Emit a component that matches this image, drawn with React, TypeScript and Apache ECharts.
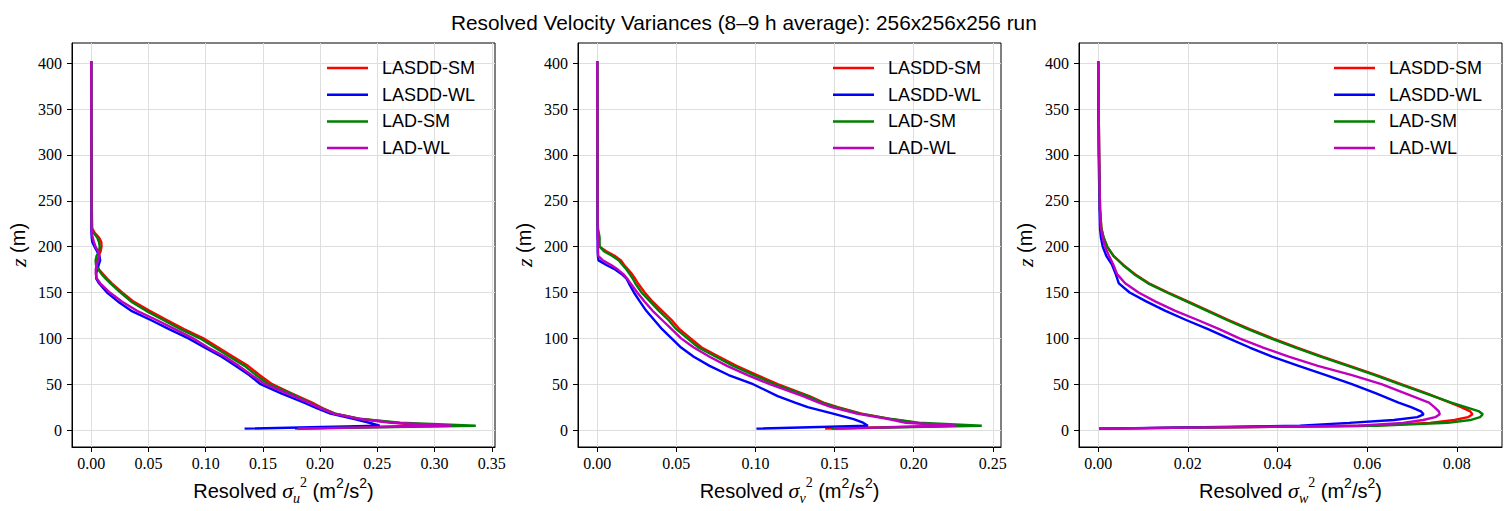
import React, { useEffect, useRef } from "react";
import * as echarts from "echarts";

// ---------- data ----------
const SERIES_NAMES = ["LASDD-SM", "LASDD-WL", "LAD-SM", "LAD-WL"];
const SERIES_COLORS = ["#ff0000", "#0000ff", "#008000", "#bf00bf"];

const TITLE = "Resolved Velocity Variances (8\u20139 h average): 256x256x256 run";

const Z_TICKS = [0, 50, 100, 150, 200, 250, 300, 350, 400];
const U_TICKS = [0, 0.05, 0.1, 0.15, 0.2, 0.25, 0.3, 0.35];
const V_TICKS = [0, 0.05, 0.1, 0.15, 0.2, 0.25];
const W_TICKS = [0, 0.02, 0.04, 0.06, 0.08];

// panel 1: sigma_u^2
const Z1 = [1.56, 4.69, 8, 12, 18, 24, 30, 40, 50, 60, 70, 80, 90, 100, 110, 120, 130, 140, 150, 160, 165, 170, 175, 180, 185, 190, 195, 200, 205, 210, 215, 220, 260, 320, 402];
const U_LASDD_SM = [0.178, 0.29, 0.266, 0.236, 0.213, 0.202, 0.193, 0.175, 0.158, 0.147, 0.137, 0.124, 0.111, 0.098, 0.081, 0.066, 0.051, 0.037, 0.027, 0.018, 0.0141, 0.0103, 0.0068, 0.0052, 0.0055, 0.0065, 0.0082, 0.009, 0.0088, 0.0068, 0.003, 0.0008, 0.0003, 0.0001, 0.0];
const U_LASDD_WL = [0.134, 0.252, 0.243, 0.23, 0.209, 0.197, 0.186, 0.166, 0.148, 0.138, 0.126, 0.114, 0.099, 0.085, 0.068, 0.052, 0.035, 0.0235, 0.0138, 0.0068, 0.0044, 0.0044, 0.005, 0.0065, 0.0078, 0.0072, 0.005, 0.0029, 0.0009, 0.0004, 0.0002, 0.0001, 0.0002, 0.0001, 0.0];
const U_LAD_SM = [0.18, 0.336, 0.27, 0.236, 0.213, 0.201, 0.191, 0.174, 0.155, 0.144, 0.134, 0.121, 0.108, 0.095, 0.078, 0.063, 0.048, 0.035, 0.0256, 0.0168, 0.0126, 0.0091, 0.0062, 0.0042, 0.0038, 0.0047, 0.0068, 0.0074, 0.0068, 0.0052, 0.002, 0.0006, 0.0003, 0.0001, 0.0];
const U_LAD_WL = [0.181, 0.315, 0.262, 0.235, 0.212, 0.2, 0.19, 0.171, 0.152, 0.14, 0.129, 0.117, 0.102, 0.089, 0.073, 0.057, 0.04, 0.027, 0.0162, 0.0079, 0.005, 0.004, 0.004, 0.0047, 0.0062, 0.0068, 0.0059, 0.0038, 0.0024, 0.0012, 0.0006, 0.0003, 0.0003, 0.0001, 0.0];

// panel 2: sigma_v^2
const Z2 = [1.56, 4.69, 8, 12, 18, 25, 30, 37, 50, 60, 70, 80, 90, 100, 110, 120, 130, 140, 150, 160, 165, 170, 175, 180, 185, 190, 195, 200, 205, 210, 215, 220, 260, 320, 402];
const V_LASDD_SM = [0.144, 0.222, 0.201, 0.186, 0.167, 0.152, 0.143, 0.134, 0.114, 0.101, 0.088, 0.077, 0.066, 0.059, 0.052, 0.047, 0.041, 0.035, 0.03, 0.0257, 0.024, 0.022, 0.0195, 0.017, 0.015, 0.011, 0.0057, 0.0015, 0.0008, 0.0006, 0.0005, 0.0004, 0.0003, 0.0001, 0.0];
const V_LASDD_WL = [0.1006, 0.171, 0.168, 0.162, 0.149, 0.133, 0.125, 0.114, 0.0985, 0.083, 0.071, 0.061, 0.053, 0.047, 0.041, 0.036, 0.031, 0.027, 0.0232, 0.02, 0.0185, 0.0155, 0.0113, 0.0058, 0.0008, 0.0004, 0.0003, 0.0003, 0.0003, 0.0002, 0.0002, 0.0002, 0.0001, 0.0001, 0.0];
const V_LAD_SM = [0.148, 0.243, 0.203, 0.186, 0.166, 0.151, 0.142, 0.133, 0.112, 0.099, 0.086, 0.075, 0.064, 0.057, 0.05, 0.045, 0.039, 0.0335, 0.028, 0.024, 0.0225, 0.0205, 0.0185, 0.016, 0.0137, 0.0093, 0.0042, 0.0015, 0.0015, 0.0015, 0.001, 0.0004, 0.0003, 0.0001, 0.0];
const V_LAD_WL = [0.15, 0.227, 0.195, 0.184, 0.164, 0.148, 0.14, 0.13, 0.109, 0.095, 0.082, 0.071, 0.061, 0.053, 0.047, 0.041, 0.035, 0.03, 0.0253, 0.021, 0.019, 0.0165, 0.013, 0.0088, 0.0035, 0.0006, 0.0005, 0.0004, 0.0004, 0.0003, 0.0003, 0.0003, 0.0002, 0.0001, 0.0];

// panel 3: sigma_w^2
const Z3 = [1.56, 4.69, 7.81, 10.94, 14.06, 17.19, 20.31, 25, 30, 40, 50, 60, 70, 80, 90, 100, 110, 120, 130, 140, 150, 160, 170, 180, 190, 200, 210, 220, 240, 300, 402];
const W_LASDD_SM = [0.0002, 0.06, 0.074, 0.0795, 0.0825, 0.0835, 0.083, 0.081, 0.0785, 0.0733, 0.0676, 0.0621, 0.0561, 0.05, 0.0444, 0.0389, 0.0338, 0.0291, 0.0246, 0.0201, 0.0156, 0.0113, 0.0082, 0.0056, 0.0034, 0.002, 0.0012, 0.0007, 0.0004, 0.0002, 0.0];
const W_LASDD_WL = [0.0002, 0.045, 0.056, 0.066, 0.0712, 0.0726, 0.072, 0.0698, 0.067, 0.062, 0.0566, 0.0508, 0.0447, 0.0388, 0.0338, 0.0291, 0.0245, 0.0196, 0.015, 0.0108, 0.007, 0.0046, 0.0039, 0.0031, 0.0018, 0.001, 0.0006, 0.0004, 0.0003, 0.0001, 0.0];
const W_LAD_SM = [0.0002, 0.062, 0.078, 0.083, 0.0852, 0.0858, 0.085, 0.082, 0.0788, 0.073, 0.0672, 0.0617, 0.0557, 0.0496, 0.044, 0.0385, 0.0334, 0.0287, 0.0243, 0.0198, 0.0153, 0.0111, 0.008, 0.0055, 0.0034, 0.002, 0.0012, 0.0007, 0.0004, 0.0002, 0.0];
const W_LAD_WL = [0.0002, 0.058, 0.068, 0.0725, 0.0752, 0.0762, 0.076, 0.075, 0.0738, 0.0685, 0.0632, 0.0566, 0.049, 0.0425, 0.0368, 0.0315, 0.027, 0.0222, 0.0172, 0.0128, 0.009, 0.006, 0.0042, 0.0034, 0.0024, 0.0015, 0.001, 0.0006, 0.0004, 0.0002, 0.0];

// ---------- layout ----------
const PANELS = [
  { z: Z1, vals: [U_LASDD_SM, U_LASDD_WL, U_LAD_SM, U_LAD_WL], ticks: U_TICKS, sub: "u", left: 72 },
  { z: Z2, vals: [V_LASDD_SM, V_LASDD_WL, V_LAD_SM, V_LAD_WL], ticks: V_TICKS, sub: "v", left: 578 },
  { z: Z3, vals: [W_LASDD_SM, W_LASDD_WL, W_LAD_SM, W_LAD_WL], ticks: W_TICKS, sub: "w", left: 1079 },
];
const GRID_TOP = 43;
const GRID_W = 423;
const GRID_H = 404;

const SANS = "Liberation Sans";
const SERIF = "Liberation Serif";

function padded(arrs: number[][]): [number, number] {
  let lo = Infinity;
  let hi = -Infinity;
  arrs.forEach((a) => a.forEach((v) => { if (v < lo) lo = v; if (v > hi) hi = v; }));
  const r = hi - lo;
  return [lo - 0.05 * r, hi + 0.05 * r];
}

function buildOption() {
  const grids: any[] = [];
  const xAxes: any[] = [];
  const yAxes: any[] = [];
  const legends: any[] = [];
  const series: any[] = [];

  PANELS.forEach((p, i) => {
    grids.push({
      left: p.left, top: GRID_TOP, width: GRID_W, height: GRID_H,
      show: true, borderColor: "#000", borderWidth: 1, backgroundColor: "transparent",
      containLabel: false, outerBoundsMode: "none",
    });
    const [xmin, xmax] = padded(p.vals);
    const [ymin, ymax] = padded([p.z]);
    xAxes.push({
      type: "value", gridIndex: i, min: xmin, max: xmax,
      axisLine: { show: true, onZero: false, lineStyle: { color: "#000", width: 1 } },
      axisTick: { show: true, inside: false, length: 5, customValues: p.ticks, lineStyle: { color: "#000", width: 1 } },
      axisLabel: {
        customValues: p.ticks, margin: 8, color: "#000", fontFamily: SERIF, fontSize: 16,
        formatter: (v: number) => v.toFixed(2),
      },
      splitLine: { show: true, lineStyle: { color: "#dedede", width: 1 } },
      name: `{t|Resolved }{s|\u03c3}{b|${p.sub}}{p|2}{t| (m}{q|2}{t|/s}{q|2}{t|)}`,
      nameLocation: "middle", nameGap: 26,
      nameTextStyle: {
        color: "#000", fontFamily: SANS, fontSize: 20,
        rich: {
          t: { fontFamily: SANS, fontSize: 20, lineHeight: 30, color: "#000" },
          s: { fontFamily: SERIF, fontStyle: "italic", fontSize: 22, lineHeight: 30, color: "#000" },
          p: { fontFamily: SERIF, fontSize: 14, lineHeight: 19, verticalAlign: "top", color: "#000" },
          b: { fontFamily: SERIF, fontStyle: "italic", fontSize: 14, lineHeight: 15, verticalAlign: "bottom", color: "#000" },
          q: { fontFamily: SANS, fontSize: 14, lineHeight: 19, verticalAlign: "top", color: "#000" },
        },
      },
    });
    yAxes.push({
      type: "value", gridIndex: i, min: ymin, max: ymax,
      axisLine: { show: true, onZero: false, lineStyle: { color: "#000", width: 1 } },
      axisTick: { show: true, inside: false, length: 5, customValues: Z_TICKS, lineStyle: { color: "#000", width: 1 } },
      axisLabel: {
        customValues: Z_TICKS, margin: 10, color: "#000", fontFamily: SERIF, fontSize: 16,
        formatter: (v: number) => String(Math.round(v)),
      },
      splitLine: { show: true, lineStyle: { color: "#dedede", width: 1 } },
      name: "{i|z} (m)",
      nameLocation: "middle", nameGap: 43, nameRotate: 90,
      nameTextStyle: {
        color: "#000", fontFamily: SANS, fontSize: 20,
        rich: { i: { fontFamily: SERIF, fontStyle: "italic", fontSize: 22, color: "#000" } },
      },
    });
    legends.push({
      data: SERIES_NAMES, orient: "vertical", left: p.left + 255, top: 58, padding: 0,
      icon: "rect", itemWidth: 41, itemHeight: 2.5, itemGap: 6.7, selectedMode: false,
      textStyle: { fontFamily: SANS, fontSize: 18, color: "#000", lineHeight: 20, padding: [0, 0, 0, 9] },
    });
    SERIES_NAMES.forEach((name, k) => {
      series.push({
        type: "line", name, xAxisIndex: i, yAxisIndex: i,
        data: p.z.map((zz, j) => [p.vals[k][j], zz]),
        symbol: "none", showSymbol: false, silent: true, clip: true,
        color: SERIES_COLORS[k],
        lineStyle: { color: SERIES_COLORS[k], width: 2.4 },
        itemStyle: { color: SERIES_COLORS[k] },
        z: 2 + k,
      });
    });
  });

  return {
    animation: false,
    backgroundColor: "#fff",
    title: {
      text: TITLE, left: 446, top: 7,
      textStyle: { fontFamily: SANS, fontSize: 20.8, fontWeight: "normal", color: "#000" },
    },
    grid: grids, xAxis: xAxes, yAxis: yAxes, legend: legends, series,
  };
}

export default function App() {
  const ref = useRef<HTMLDivElement>(null);
  useEffect(() => {
    document.body.style.margin = "0";
    const chart = echarts.init(ref.current!, null, { renderer: "svg" });
    chart.setOption(buildOption() as any);
    return () => chart.dispose();
  }, []);
  return <div ref={ref} style={{ width: 1511, height: 511 }} />;
}
